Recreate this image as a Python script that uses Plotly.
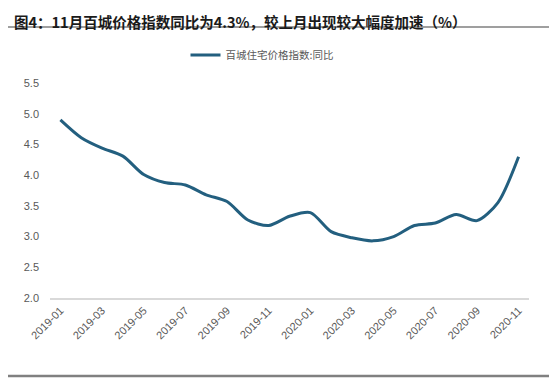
import plotly.graph_objects as go

months = ["2019-01","2019-02","2019-03","2019-04","2019-05","2019-06","2019-07","2019-08",
          "2019-09","2019-10","2019-11","2019-12","2020-01","2020-02","2020-03","2020-04",
          "2020-05","2020-06","2020-07","2020-08","2020-09","2020-10","2020-11"]
yoy = [4.90, 4.61, 4.44, 4.31, 4.01, 3.88, 3.84, 3.68, 3.57, 3.27, 3.18, 3.33, 3.39,
       3.08, 2.98, 2.93, 3.00, 3.18, 3.22, 3.36, 3.26, 3.55, 4.30]
tick_labels = months[::2]
series_name = "百城住宅价格指数:同比"
title_text = "图4：11月百城价格指数同比为4.3%，较上月出现较大幅度加速（%）"

OFF = 8  # page body margin
W, H = 557 - OFF, 379 - OFF
# plot area in page pixels: x 50..529, y 83..298
L, R = 50 - OFF, 557 - 529
T, B = 83 - OFF, 379 - 298
pw, ph = W - L - R, H - T - B

def px(x):
    return (x - OFF - L) / pw

def py(y):
    return (H - B - (y - OFF)) / ph

fig = go.Figure()
fig.add_trace(go.Scatter(
    x=months, y=yoy, mode="lines", name=series_name,
    line=dict(color="#235f7f", width=3, shape="spline", smoothing=0.8),
))

fig.update_layout(
    width=W, height=H, margin=dict(l=L, r=R, t=T, b=B),
    paper_bgcolor="white", plot_bgcolor="white",
    font=dict(family="Liberation Sans, Arial, sans-serif", color="#595959", size=11),
    showlegend=True,
    legend=dict(orientation="h", x=px(262), xanchor="center", y=py(55), yanchor="middle",
                font=dict(family="Noto Sans CJK SC", size=10.5, color="#595959"),
                bgcolor="rgba(0,0,0,0)"),
    xaxis=dict(type="category", categoryorder="array", categoryarray=months,
               range=[-0.5, len(months) - 0.5], tickvals=tick_labels, ticktext=tick_labels,
               tickangle=-45, showgrid=False, showline=True, linecolor="#d9d9d9", linewidth=1.5,
               zeroline=False, ticks="", tickfont=dict(size=11, color="#595959")),
    yaxis=dict(range=[2.0, 5.5], dtick=0.5, tickformat=".1f", showgrid=False, showline=False,
               zeroline=False, ticks="", ticklabelstandoff=10,
               tickfont=dict(size=11, color="#595959")),
)

fig.add_annotation(x=px(12), y=py(8.5), xref="paper", yref="paper", xanchor="left",
                   yanchor="top", showarrow=False, text="<b>" + title_text + "</b>",
                   font=dict(family="Noto Sans CJK SC", size=14.5, color="#1a1a1a"))
fig.add_shape(type="line", xref="paper", yref="paper", x0=px(OFF), x1=px(557), y0=py(27), y1=py(27),
              line=dict(color="#404040", width=1.2))
fig.add_shape(type="line", xref="paper", yref="paper", x0=px(OFF), x1=px(557), y0=py(376), y1=py(376),
              line=dict(color="#808080", width=2.5))

fig.write_html("out.html")
